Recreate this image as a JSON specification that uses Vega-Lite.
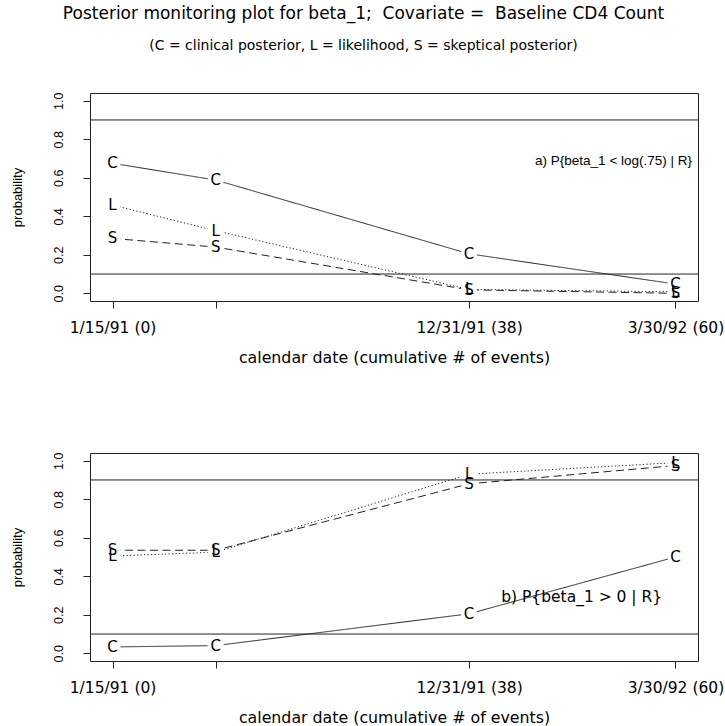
{
  "$schema": "https://vega.github.io/schema/vega-lite/v6.json",
  "autosize": {"type": "pad"},
  "padding": {"left": 10, "top": 4, "right": 0, "bottom": 0},
  "background": "white",
  "bounds": "flush",
  "title": {
    "text": "Posterior monitoring plot for beta_1;\u00a0 Covariate =\u00a0 Baseline CD4 Count",
    "subtitle": "(C = clinical posterior, L = likelihood, S = skeptical posterior)",
    "anchor": "middle",
    "frame": "group",
    "dx": -30.5,
    "offset": 38,
    "font": "DejaVu Sans",
    "fontSize": 17,
    "fontWeight": "normal",
    "color": "#000",
    "subtitleFont": "DejaVu Sans",
    "subtitleFontSize": 14,
    "subtitleColor": "#000",
    "subtitlePadding": 16
  },
  "datasets": {
    "monitor": [
      {"panel": "a", "series": "C", "events": 0, "prob": 0.675},
      {"panel": "a", "series": "C", "events": 11, "prob": 0.588},
      {"panel": "a", "series": "C", "events": 38, "prob": 0.205},
      {"panel": "a", "series": "C", "events": 60, "prob": 0.048},
      {"panel": "a", "series": "L", "events": 0, "prob": 0.458},
      {"panel": "a", "series": "L", "events": 11, "prob": 0.325},
      {"panel": "a", "series": "L", "events": 38, "prob": 0.02},
      {"panel": "a", "series": "L", "events": 60, "prob": 0.008},
      {"panel": "a", "series": "S", "events": 0, "prob": 0.285},
      {"panel": "a", "series": "S", "events": 11, "prob": 0.24},
      {"panel": "a", "series": "S", "events": 38, "prob": 0.018},
      {"panel": "a", "series": "S", "events": 60, "prob": 0.0},
      {"panel": "b", "series": "C", "events": 0, "prob": 0.033},
      {"panel": "b", "series": "C", "events": 11, "prob": 0.04},
      {"panel": "b", "series": "C", "events": 38, "prob": 0.205},
      {"panel": "b", "series": "C", "events": 60, "prob": 0.5},
      {"panel": "b", "series": "L", "events": 0, "prob": 0.505},
      {"panel": "b", "series": "L", "events": 11, "prob": 0.525},
      {"panel": "b", "series": "L", "events": 38, "prob": 0.93},
      {"panel": "b", "series": "L", "events": 60, "prob": 0.99},
      {"panel": "b", "series": "S", "events": 0, "prob": 0.535},
      {"panel": "b", "series": "S", "events": 11, "prob": 0.535},
      {"panel": "b", "series": "S", "events": 38, "prob": 0.88},
      {"panel": "b", "series": "S", "events": 60, "prob": 0.975}
    ],
    "bounds": [{"bound": 0.1}, {"bound": 0.9}]
  },
  "spacing": 152,
  "vconcat": [
    {
      "width": 608,
      "height": 208,
      "layer": [
        {
          "data": {"name": "monitor"},
          "transform": [{"filter": "datum.panel == 'a'"}],
          "mark": {"type": "line", "color": "#222", "strokeWidth": 1},
          "encoding": {
            "x": {
              "field": "events", "type": "quantitative",
              "scale": {"domain": [-2.4, 62.4], "nice": false, "zero": false},
              "axis": {
                "values": [0, 11, 38, 60],
                "labelExpr": "datum.value == 0 ? '1/15/91 (0)' : datum.value == 38 ? '12/31/91 (38)' : datum.value == 60 ? '3/30/92 (60)' : ''",
                "title": "calendar date (cumulative # of events)"
              }
            },
            "y": {
              "field": "prob", "type": "quantitative",
              "scale": {"domain": [-0.04, 1.04], "nice": false, "zero": false},
              "axis": {"values": [0, 0.2, 0.4, 0.6, 0.8, 1.0], "format": ".1f", "title": "probability"}
            },
            "strokeDash": {
              "field": "series", "type": "nominal",
              "scale": {"domain": ["C", "L", "S"], "range": [[1, 0], [1.2, 2.3], [8, 4.5]]},
              "legend": null
            }
          }
        },
        {
          "data": {"name": "monitor"},
          "transform": [{"filter": "datum.panel == 'a'"}],
          "mark": {"type": "point", "shape": "circle", "filled": true, "color": "white", "opacity": 1, "size": 260, "strokeWidth": 0},
          "encoding": {
            "x": {"field": "events", "type": "quantitative"},
            "y": {"field": "prob", "type": "quantitative"}
          }
        },
        {
          "data": {"name": "bounds"},
          "mark": {"type": "rule", "color": "#222", "strokeWidth": 1},
          "encoding": {"y": {"field": "bound", "type": "quantitative"}}
        },
        {
          "data": {"name": "monitor"},
          "transform": [{"filter": "datum.panel == 'a'"}],
          "mark": {"type": "text", "font": "DejaVu Sans", "fontSize": 15, "color": "#000", "align": "center", "baseline": "middle"},
          "encoding": {
            "x": {"field": "events", "type": "quantitative"},
            "y": {"field": "prob", "type": "quantitative"},
            "text": {"field": "series"}
          }
        },
        {
          "data": {"values": [{}]},
          "mark": {"type": "text", "font": "Liberation Sans", "fontSize": 13.5, "color": "#000", "align": "center", "baseline": "middle"},
          "encoding": {
            "x": {"datum": 53.4},
            "y": {"datum": 0.687},
            "text": {"value": "a) P{beta_1 < log(.75) | R}"}
          }
        }
      ]
    },
    {
      "width": 608,
      "height": 208,
      "layer": [
        {
          "data": {"name": "monitor"},
          "transform": [{"filter": "datum.panel == 'b'"}],
          "mark": {"type": "line", "color": "#222", "strokeWidth": 1},
          "encoding": {
            "x": {
              "field": "events", "type": "quantitative",
              "scale": {"domain": [-2.4, 62.4], "nice": false, "zero": false},
              "axis": {
                "values": [0, 11, 38, 60],
                "labelExpr": "datum.value == 0 ? '1/15/91 (0)' : datum.value == 38 ? '12/31/91 (38)' : datum.value == 60 ? '3/30/92 (60)' : ''",
                "title": "calendar date (cumulative # of events)"
              }
            },
            "y": {
              "field": "prob", "type": "quantitative",
              "scale": {"domain": [-0.04, 1.04], "nice": false, "zero": false},
              "axis": {"values": [0, 0.2, 0.4, 0.6, 0.8, 1.0], "format": ".1f", "title": "probability"}
            },
            "strokeDash": {
              "field": "series", "type": "nominal",
              "scale": {"domain": ["C", "L", "S"], "range": [[1, 0], [1.2, 2.3], [8, 4.5]]},
              "legend": null
            }
          }
        },
        {
          "data": {"name": "monitor"},
          "transform": [{"filter": "datum.panel == 'b'"}],
          "mark": {"type": "point", "shape": "circle", "filled": true, "color": "white", "opacity": 1, "size": 260, "strokeWidth": 0},
          "encoding": {
            "x": {"field": "events", "type": "quantitative"},
            "y": {"field": "prob", "type": "quantitative"}
          }
        },
        {
          "data": {"name": "bounds"},
          "mark": {"type": "rule", "color": "#222", "strokeWidth": 1},
          "encoding": {"y": {"field": "bound", "type": "quantitative"}}
        },
        {
          "data": {"name": "monitor"},
          "transform": [{"filter": "datum.panel == 'b'"}],
          "mark": {"type": "text", "font": "DejaVu Sans", "fontSize": 15, "color": "#000", "align": "center", "baseline": "middle"},
          "encoding": {
            "x": {"field": "events", "type": "quantitative"},
            "y": {"field": "prob", "type": "quantitative"},
            "text": {"field": "series"}
          }
        },
        {
          "data": {"values": [{}]},
          "mark": {"type": "text", "font": "DejaVu Sans", "fontSize": 15.5, "color": "#000", "align": "center", "baseline": "middle"},
          "encoding": {
            "x": {"datum": 50.0},
            "y": {"datum": 0.294},
            "text": {"value": "b) P{beta_1 > 0 | R}"}
          }
        }
      ]
    }
  ],
  "config": {
    "view": {"stroke": "#222", "strokeWidth": 1},
    "axis": {
      "domain": false,
      "grid": false,
      "ticks": true,
      "tickSize": 7,
      "tickColor": "#222",
      "tickWidth": 1,
      "labelColor": "#000",
      "titleColor": "#000",
      "titleFontWeight": "normal",
      "labelOverlap": false,
      "labelBound": false,
      "labelFlush": false
    },
    "axisX": {
      "labelFont": "DejaVu Sans",
      "labelFontSize": 15.5,
      "labelPadding": 12,
      "titleFont": "DejaVu Sans",
      "titleFontSize": 15.8,
      "titlePadding": 15
    },
    "axisY": {
      "labelFont": "Liberation Sans",
      "labelFontSize": 12.5,
      "labelAngle": -90,
      "labelAlign": "center",
      "labelBaseline": "bottom",
      "labelPadding": 18,
      "titleFont": "Liberation Sans",
      "titleFontSize": 13,
      "titlePadding": 28
    }
  }
}
